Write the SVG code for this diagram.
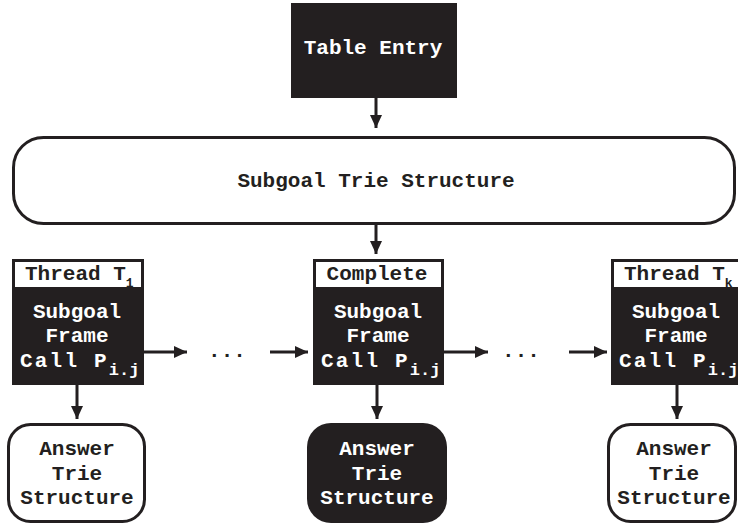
<svg xmlns="http://www.w3.org/2000/svg" width="738" height="525" viewBox="0 0 738 525">
<style>
text{font-family:"Liberation Mono","Courier New",monospace;font-weight:bold;font-size:21px}
.w{fill:#ffffff}
.k{fill:#231f20}
.c{text-anchor:middle}
.blk{fill:#231f20}
.out{fill:#ffffff;stroke:#231f20;stroke-width:3}
.sub{font-size:13px}
.sub2{font-size:17px}
.edge{stroke:#231f20;stroke-width:3;fill:none;marker-end:url(#ah)}
</style>
<defs>
<marker id="ah" markerUnits="userSpaceOnUse" markerWidth="13" markerHeight="12" refX="13" refY="6" orient="auto">
<path d="M0,0 L13,6 L0,12 z" fill="#231f20"/>
</marker>
</defs>
<rect width="738" height="525" fill="#ffffff"/>
<g id="table-entry">
<rect class="blk" x="291" y="3" width="166" height="95"/>
<text class="w c" x="373" y="54">Table Entry</text>
</g>
<g id="subgoal-trie">
<rect class="out" x="13.5" y="137.5" width="721" height="86" rx="30"/>
<text class="k c" x="376" y="187">Subgoal Trie Structure</text>
</g>
<g id="thread-1">
<rect class="blk" x="12" y="259" width="132" height="126"/>
<rect class="w" x="15" y="262" width="126" height="25"/>
<text class="k" x="25" y="280">Thread T<tspan class="sub" dy="7">1</tspan></text>
<text class="w c" x="77" y="318">Subgoal</text>
<text class="w c" x="77" y="342">Frame</text>
<text class="w" x="20" y="367" letter-spacing="2.2">Call P<tspan class="sub2" dy="8" letter-spacing="0">i.j</tspan></text>
</g>
<g id="complete">
<rect class="blk" x="313" y="259" width="131" height="126"/>
<rect class="w" x="316" y="262" width="125" height="25"/>
<text class="k c" x="377" y="280">Complete</text>
<text class="w c" x="378" y="318">Subgoal</text>
<text class="w c" x="378" y="342">Frame</text>
<text class="w" x="321" y="367" letter-spacing="2.2">Call P<tspan class="sub2" dy="8" letter-spacing="0">i.j</tspan></text>
</g>
<g id="thread-k">
<rect class="blk" x="611" y="259" width="127" height="126"/>
<rect class="w" x="614" y="262" width="124" height="25"/>
<text class="k" x="624" y="280">Thread T<tspan class="sub" dy="7">k</tspan></text>
<text class="w c" x="676" y="318">Subgoal</text>
<text class="w c" x="676" y="342">Frame</text>
<text class="w" x="619" y="367" letter-spacing="2.2">Call P<tspan class="sub2" dy="8" letter-spacing="0">i.j</tspan></text>
</g>
<g id="answer-1">
<rect class="out" x="8.5" y="424.5" width="136" height="97" rx="22"/>
<text class="k c" x="77" y="455">Answer</text>
<text class="k c" x="77" y="480">Trie</text>
<text class="k c" x="77" y="504">Structure</text>
</g>
<g id="answer-complete">
<rect class="blk" x="307" y="423" width="140" height="100" rx="24"/>
<text class="w c" x="377" y="455">Answer</text>
<text class="w c" x="377" y="480">Trie</text>
<text class="w c" x="377" y="504">Structure</text>
</g>
<g id="answer-k">
<rect class="out" x="608.5" y="424.5" width="127" height="97" rx="22"/>
<text class="k c" x="674" y="455">Answer</text>
<text class="k c" x="674" y="480">Trie</text>
<text class="k c" x="674" y="504">Structure</text>
</g>
<g id="connectors">
<line class="edge" x1="376" y1="98" x2="376" y2="128"/>
<line class="edge" x1="376" y1="224" x2="376" y2="254"/>
<line class="edge" x1="77" y1="385" x2="77" y2="419"/>
<line class="edge" x1="377" y1="385" x2="377" y2="419"/>
<line class="edge" x1="677" y1="385" x2="677" y2="419"/>
<line class="edge" x1="144" y1="352" x2="187" y2="352"/>
<line class="edge" x1="270" y1="352" x2="308" y2="352"/>
<line class="edge" x1="444" y1="352" x2="488" y2="352"/>
<line class="edge" x1="569" y1="352" x2="607" y2="352"/>
<text class="k c" x="227" y="357">...</text>
<text class="k c" x="521" y="357">...</text>
</g>
</svg>
